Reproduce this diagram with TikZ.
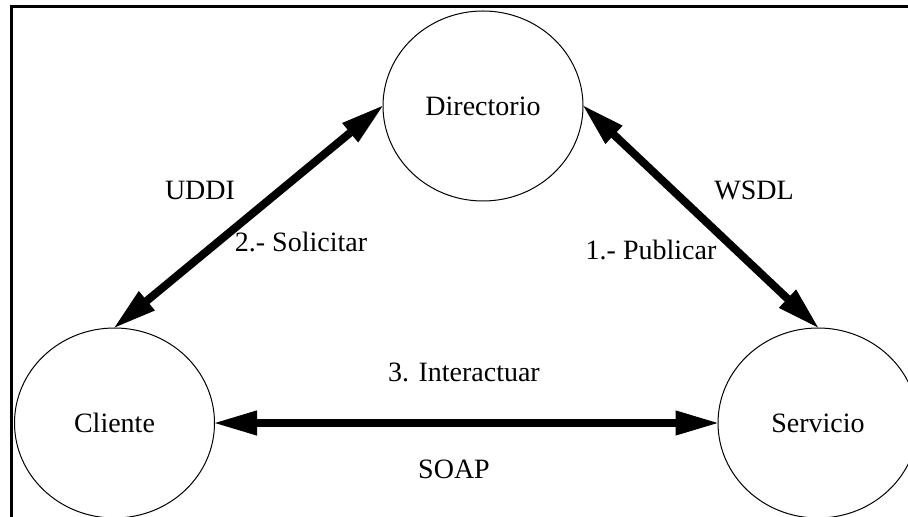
\documentclass[tikz,border=0pt]{standalone}
\usepackage{fontspec}
\setmainfont{Liberation Serif}
\usetikzlibrary{arrows.meta,shapes.geometric}

\begin{document}
\begin{tikzpicture}[x=0.5pt,y=-0.5pt,
every node/.style={font=\fontsize{14}{16}\selectfont,inner sep=0pt},
actor/.style={ellipse,draw,line width=0.5pt,minimum width=100pt,minimum height=95pt},
link/.style={{Triangle[length=21pt,width=12.5pt,line width=0.5pt]}-{Triangle[length=21pt,width=12.5pt,line width=0.5pt]},line width=4pt}]
\useasboundingbox (0,0) rectangle (908,517);
\draw[line width=1.5pt] (908,7)--(11,7)--(11,517);
\node[actor] (Dir) at (483,106) {Directorio};
\node[actor] (Cli) at (114.5,423) {Cliente};
\node[actor] (Ser) at (818,423) {Servicio};
\draw[link] (Cli.north)--(Dir.west);
\draw[link] (Dir.east)--(Ser.north);
\draw[link] (Cli.east)--(Ser.west);
\node (uddi) at (200,190) {UDDI};
\node (sol) at (301,242) {2.- Solicitar};
\node (wsdl) at (754,190) {WSDL};
\node (pub) at (651,250) {1.- Publicar};
\node (inter) at (464,372) {3. Interactuar};
\node (soap) at (454,469) {SOAP};
\end{tikzpicture}
\end{document}
